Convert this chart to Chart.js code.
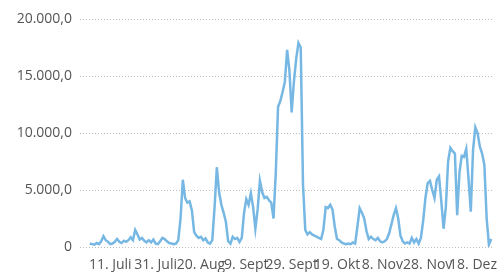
<!DOCTYPE html>
<html>
<head>
<meta charset="utf-8">
<script src="https://cdn.jsdelivr.net/npm/chart.js@4/dist/chart.umd.min.js"></script>
<style>
  body { margin: 0; background: #fff; }
  #wrap { width: 499px; height: 272px; }
</style>
</head>
<body>
<div id="wrap"><canvas id="salesChart" width="499" height="272"></canvas></div>
<script>
// Daily values, starting 2. Juli
const startDate = new Date(2023, 6, 2);
const dailyValues = [
    300, 250, 200, 350, 250, 500, 950, 600, 450, 250,
    300, 450, 700, 450, 350, 550, 450, 600, 850, 600,
    1500, 1100, 650, 800, 550, 400, 600, 400, 650, 300,
    250, 500, 800, 700, 500, 350, 300, 250, 300, 600,
    2500, 5900, 4300, 3900, 4000, 3200, 1300, 1000, 800, 900,
    600, 750, 400, 300, 600, 3500, 7000, 4800, 3700, 3000,
    2200, 500, 300, 900, 700, 800, 450, 800, 3000, 4200,
    3700, 4700, 3500, 1600, 3300, 5800, 4800, 4300, 4400, 4100,
    3900, 2500, 6500, 12300, 12800, 13600, 14500, 17300, 15500, 11800,
    14500, 16500, 17900, 17500, 5500, 1500, 1100, 1300, 1100, 1000,
    900, 800, 700, 1500, 3500, 3400, 3700, 3300, 1800, 700,
    600, 400, 300, 250, 300, 250, 400, 300, 1800, 3400,
    3000, 2500, 1400, 700, 900, 700, 600, 800, 500, 400,
    500, 700, 1200, 2000, 2800, 3400, 2500, 1000, 500, 300,
    400, 300, 800, 400, 700, 300, 800, 2300, 4300, 5600,
    5800, 5000, 4300, 5900, 6200, 4000, 1600, 3500, 7500, 8700,
    8400, 8200, 2800, 6500, 8000, 7900, 8600, 6000, 3100, 8500,
    10500, 10000, 8800, 8200, 7200, 2500, 200, 700
];
// day index of each date label, every 20 days from 11. Juli
const labelDays = [9, 29, 49, 69, 89, 109, 129, 149, 169];
const monthNames = ['Jan', 'Feb', 'März', 'Apr', 'Mai', 'Juni', 'Juli', 'Aug', 'Sept', 'Okt', 'Nov', 'Dez'];
const yTicks = [0, 5000, 10000, 15000, 20000];

const dayLabel = (i) => {
    const d = new Date(startDate.getFullYear(), startDate.getMonth(), startDate.getDate() + i);
    return d.getDate() + '. ' + monthNames[d.getMonth()];
};

const formatDE = (v) => {
    if (v === 0) return '0';
    const whole = Math.round(v).toString().replace(/\B(?=(\d{3})+(?!\d))/g, '.');
    return whole + ',0';
};

const points = dailyValues.map((v, i) => ({ x: i, y: v }));

Chart.defaults.font.family = '"Open Sans", "Noto Sans", sans-serif';
Chart.defaults.font.size = 14;
Chart.defaults.color = '#666666';

new Chart(document.getElementById('salesChart'), {
    type: 'line',
    data: {
        datasets: [{
            data: points,
            borderColor: '#76b8e3',
            borderWidth: 2.5,
            pointRadius: 0,
            tension: 0,
            fill: false
        }]
    },
    options: {
        responsive: false,
        animation: false,
        layout: { padding: { top: 19, right: 0, left: 0, bottom: 0 } },
        plugins: { legend: { display: false }, tooltip: { enabled: false } },
        scales: {
            x: {
                type: 'linear',
                min: -4.35,
                max: 177.8,
                grid: { display: false },
                border: { display: false },
                afterBuildTicks: (axis) => { axis.ticks = labelDays.map(v => ({ value: v })); },
                afterFit: (axis) => { axis.height = 25; },
                ticks: {
                    autoSkip: false,
                    maxRotation: 0,
                    padding: 2,
                    color: '#555555',
                    callback: (v) => dayLabel(v)
                }
            },
            y: {
                min: 0,
                max: 20000,
                afterBuildTicks: (axis) => { axis.ticks = yTicks.map(v => ({ value: v })); },
                afterFit: (axis) => { axis.width = 80; },
                border: { display: false, dash: [1, 2] },
                grid: {
                    color: '#bdbdbd',
                    lineWidth: 1,
                    drawTicks: false
                },
                ticks: {
                    padding: 8,
                    color: '#555555',
                    callback: (v) => formatDE(v)
                }
            }
        }
    }
});
</script>
</body>
</html>
